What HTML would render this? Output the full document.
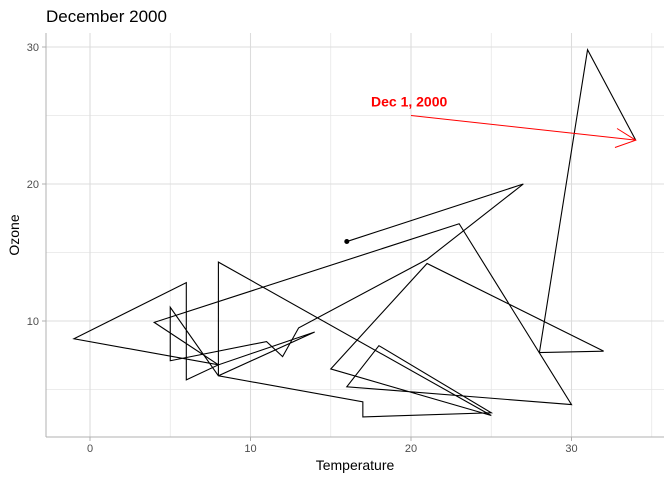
<!DOCTYPE html>
<html><head><meta charset="utf-8"><style>
body{margin:0;background:#fff;font-family:"Liberation Sans",sans-serif}
</style></head><body>
<svg id="chart" width="672" height="480" xmlns="http://www.w3.org/2000/svg" font-family="Liberation Sans, sans-serif">
<text x="46" y="22" font-size="17" fill="#000">December 2000</text>
<g id="grid"></g><g id="axes"></g><g id="series"></g><g id="annot"></g>
<text x="355" y="470" font-size="14" text-anchor="middle">Temperature</text>
<text transform="translate(19,235) rotate(-90)" font-size="14" text-anchor="middle">Ozone</text>
</svg>
<script>
const temps=[34,31,28,32,21,15,25,8,8,17,17,25,18,16,30,23,4,8,6,6,-1,8,14,8,5,5,11,12,13,21,27,16];
const ozone=[23.2,29.8,7.7,7.8,14.2,6.5,3.1,14.3,6.0,4.1,3.0,3.3,8.2,5.2,3.9,17.1,9.9,6.8,5.7,12.8,8.7,6.8,9.2,6.0,11,7.1,8.5,7.4,9.5,14.5,20,15.8];
const xTicks=[0,10,20,30];
const yTicks=[10,20,30];
const xMinor=[-5,5,15,25,35];
const yMinor=[5,15,25];
const annX=[20,34], annY=[25,23.2];
const L=46,R=664,T=33,B=437;
const sx=v=>90+v*16.05, sy=v=>321-(v-10)*13.7;
const NS="http://www.w3.org/2000/svg";
function mk(t,a,p){const e=document.createElementNS(NS,t);for(const k in a)e.setAttribute(k,a[k]);p.appendChild(e);return e;}
const g=document.getElementById('grid'),ax=document.getElementById('axes'),s=document.getElementById('series'),an=document.getElementById('annot');
xMinor.forEach(v=>{const x=sx(v);if(x>L&&x<R){const l=mk('line',{x1:x,x2:x,y1:T,y2:B,stroke:'#e6e6e6','stroke-width':0.8},g);

}});
yMinor.forEach(v=>{const y=sy(v);const l=mk('line',{x1:L,x2:R,y1:y,y2:y,stroke:'#e6e6e6','stroke-width':0.8},g);

});
xTicks.forEach(v=>{const x=sx(v);const l=mk('line',{x1:x,x2:x,y1:T,y2:B,stroke:'#dcdcdc','stroke-width':1.1},g);


mk('line',{x1:x,x2:x,y1:B,y2:B+4,stroke:'#b0b0b0'},ax);
const t=mk('text',{x:x,y:B+15,'font-size':11,fill:'#4d4d4d','text-anchor':'middle'},ax);t.textContent=v;

});
yTicks.forEach(v=>{const y=sy(v);const l=mk('line',{x1:L,x2:R,y1:y,y2:y,stroke:'#dcdcdc','stroke-width':1.1},g);


mk('line',{x1:L-4,x2:L,y1:y,y2:y,stroke:'#b0b0b0'},ax);
const t=mk('text',{x:L-7,y:y+4,'font-size':11,fill:'#4d4d4d','text-anchor':'end'},ax);t.textContent=v;

});
const ya=mk('line',{x1:L,x2:L,y1:T,y2:B,stroke:'#b0b0b0'},ax);


const xa=mk('line',{x1:L,x2:R,y1:B,y2:B,stroke:'#b0b0b0'},ax);


const p=mk('polyline',{points:temps.map((t,i)=>sx(t)+','+sy(ozone[i])).join(' '),fill:'none',stroke:'#000','stroke-width':1.1},s);


const last=temps.length-1;
const d=mk('circle',{cx:sx(temps[last]),cy:sy(ozone[last]),r:2.5,fill:'#000'},s);


const x1=sx(annX[0]),y1=sy(annY[0]),x2=sx(annX[1]),y2=sy(annY[1]);
const a=mk('line',{x1:x1,y1:y1,x2:x2,y2:y2,stroke:'red','stroke-width':1},an);


const ang=Math.atan2(y2-y1,x2-x1),len=22,sp=0.45;
const h=mk('polyline',{points:`${x2-len*Math.cos(ang-sp)},${y2-len*Math.sin(ang-sp)} ${x2},${y2} ${x2-len*Math.cos(ang+sp)},${y2-len*Math.sin(ang+sp)}`,fill:'none',stroke:'red','stroke-width':1},an);


const lt=mk('text',{x:x1-40,y:y1-9,'font-size':14,'font-weight':'bold',fill:'red'},an);lt.textContent='Dec 1, 2000';


</script>
</body></html>
